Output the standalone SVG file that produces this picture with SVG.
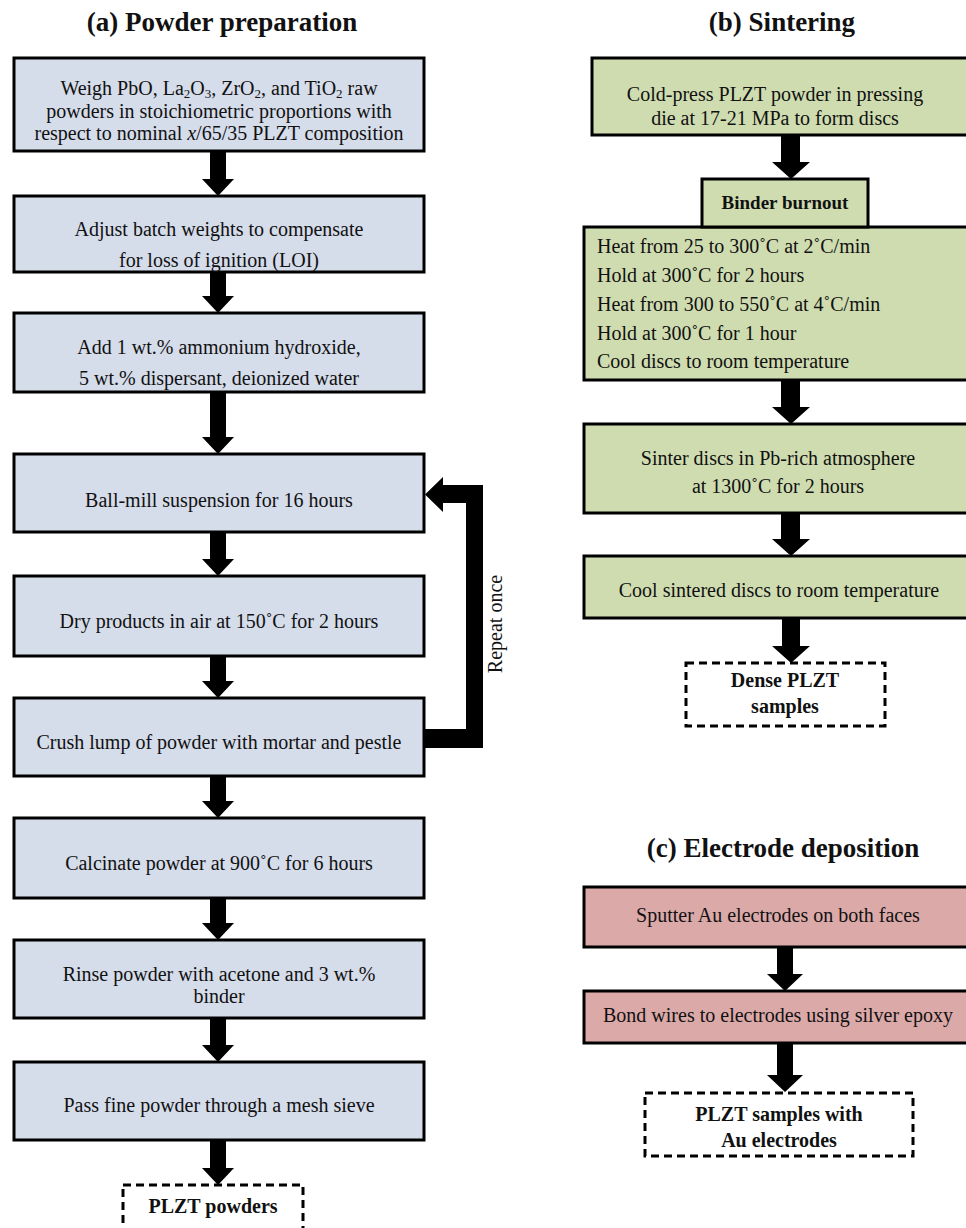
<svg xmlns="http://www.w3.org/2000/svg" width="966" height="1228" viewBox="0 0 966 1228">
<style>
text{font-family:"Liberation Serif","Times New Roman",serif;fill:#111;}
.t{font-size:20px;text-anchor:middle;}
.l{font-size:20px;}
.h{font-size:27px;font-weight:bold;text-anchor:middle;}
.b{font-size:20px;font-weight:bold;text-anchor:middle;}
.sub{font-size:13px;baseline-shift:-3px;}
.blue{fill:#D5DCEA;stroke:#000;stroke-width:3;}
.green{fill:#CFDCB0;stroke:#000;stroke-width:3;}
.pink{fill:#DCA9A9;stroke:#000;stroke-width:3;}
.dash{fill:#fff;stroke:#000;stroke-width:3;stroke-dasharray:8 5;}
.arr{fill:#000;}
</style>
<rect width="966" height="1228" fill="#fff"/>
<text class="h" x="222" y="31">(a) Powder preparation</text>
<text class="h" x="782" y="31">(b) Sintering</text>
<text class="h" x="783" y="857">(c) Electrode deposition</text>

<g id="connectors">
<path class="arr" d="M210,151 H226 V179 H234 L218,196 L202,179 H210 Z"/>
<path class="arr" d="M210,272 H226 V296 H234 L218,313 L202,296 H210 Z"/>
<path class="arr" d="M210,392 H226 V437 H234 L218,454 L202,437 H210 Z"/>
<path class="arr" d="M210,532 H226 V559 H234 L218,576 L202,559 H210 Z"/>
<path class="arr" d="M210,656 H226 V681 H234 L218,698 L202,681 H210 Z"/>
<path class="arr" d="M210,776 H226 V801 H234 L218,818 L202,801 H210 Z"/>
<path class="arr" d="M210,898 H226 V923 H234 L218,940 L202,923 H210 Z"/>
<path class="arr" d="M210,1018 H226 V1045 H234 L218,1062 L202,1045 H210 Z"/>
<path class="arr" d="M210,1140 H226 V1168 H234 L218,1185 L202,1168 H210 Z"/>
<path class="arr" d="M424,748 H483 V485 H443 V477 L425,494.5 L443,512 V503 H466 V729 H424 Z"/>
<text class="l" transform="rotate(-90 502 624)" x="502" y="624" text-anchor="middle">Repeat once</text>
<path class="arr" d="M781,135 H800 V162 H810 L791,179 L772,162 H781 Z"/>
<path class="arr" d="M781,380 H800 V407 H810 L791,424 L772,407 H781 Z"/>
<path class="arr" d="M781,513 H800 V539 H810 L791,556 L772,539 H781 Z"/>
<path class="arr" d="M782,618 H800 V646 H810 L791,663 L772,646 H782 Z"/>
<path class="arr" d="M777,947 H793 V974 H803 L785,991 L767,974 H777 Z"/>
<path class="arr" d="M777,1043 H793 V1075 H803 L785,1092 L767,1075 H777 Z"/>
</g>

<g id="a1"><rect class="blue" x="14" y="58" width="410" height="93"/>
<text class="t" x="219" y="95">Weigh PbO, La<tspan class="sub">2</tspan>O<tspan class="sub">3</tspan>, ZrO<tspan class="sub">2</tspan>, and TiO<tspan class="sub">2</tspan> raw</text>
<text class="t" x="219" y="118">powders in stoichiometric proportions with</text>
<text class="t" x="219" y="140">respect to nominal <tspan font-style="italic">x</tspan>/65/35 PLZT composition</text></g>
<g id="a2"><rect class="blue" x="14" y="196" width="410" height="76"/>
<text class="t" x="219" y="236">Adjust batch weights to compensate</text>
<text class="t" x="219" y="267">for loss of ignition (LOI)</text></g>
<g id="a3"><rect class="blue" x="14" y="313" width="410" height="79"/>
<text class="t" x="219" y="354">Add 1 wt.% ammonium hydroxide,</text>
<text class="t" x="219" y="385">5 wt.% dispersant, deionized water</text></g>
<g id="a4"><rect class="blue" x="14" y="454" width="410" height="78"/>
<text class="t" x="219" y="507">Ball-mill suspension for 16 hours</text></g>
<g id="a5"><rect class="blue" x="14" y="576" width="410" height="80"/>
<text class="t" x="219" y="628">Dry products in air at 150˚C for 2 hours</text></g>
<g id="a6"><rect class="blue" x="14" y="698" width="410" height="78"/>
<text class="t" x="219" y="749">Crush lump of powder with mortar and pestle</text></g>
<g id="a7"><rect class="blue" x="14" y="818" width="410" height="80"/>
<text class="t" x="219" y="870">Calcinate powder at 900˚C for 6 hours</text></g>
<g id="a8"><rect class="blue" x="14" y="940" width="410" height="78"/>
<text class="t" x="219" y="981">Rinse powder with acetone and 3 wt.%</text>
<text class="t" x="219" y="1003">binder</text></g>
<g id="a9"><rect class="blue" x="14" y="1062" width="410" height="78"/>
<text class="t" x="219" y="1112">Pass fine powder through a mesh sieve</text></g>
<g id="a10"><rect class="dash" x="123" y="1185" width="180" height="60"/>
<text class="b" x="213" y="1213">PLZT powders</text></g>

<g id="b1"><rect class="green" x="592" y="58" width="380" height="77"/>
<text class="t" x="775" y="101">Cold-press PLZT powder in pressing</text>
<text class="t" x="775" y="125">die at 17-21 MPa to form discs</text></g>
<g id="b2"><rect class="green" x="584" y="227" width="390" height="153"/>
<text class="l" x="597" y="253">Heat from 25 to 300˚C at 2˚C/min</text>
<text class="l" x="597" y="282">Hold at 300˚C for 2 hours</text>
<text class="l" x="597" y="311">Heat from 300 to 550˚C at 4˚C/min</text>
<text class="l" x="597" y="340">Hold at 300˚C for 1 hour</text>
<text class="l" x="597" y="368">Cool discs to room temperature</text></g>
<g id="b2h"><rect class="green" x="702" y="179" width="166" height="48"/>
<text x="785" y="209" font-size="19" font-weight="bold" text-anchor="middle">Binder burnout</text></g>
<g id="b3"><rect class="green" x="584" y="424" width="390" height="89"/>
<text class="t" x="778" y="465">Sinter discs in Pb-rich atmosphere</text>
<text class="t" x="778" y="493">at 1300˚C for 2 hours</text></g>
<g id="b4"><rect class="green" x="584" y="556" width="390" height="62"/>
<text class="t" x="779" y="597">Cool sintered discs to room temperature</text></g>
<g id="b5"><rect class="dash" x="686" y="663" width="199" height="63"/>
<text class="b" x="785" y="687">Dense PLZT</text>
<text class="b" x="785" y="713">samples</text></g>

<g id="c1"><rect class="pink" x="584" y="887" width="390" height="60"/>
<text class="t" x="778" y="922">Sputter Au electrodes on both faces</text></g>
<g id="c2"><rect class="pink" x="584" y="991" width="390" height="52"/>
<text class="t" x="778" y="1022">Bond wires to electrodes using silver epoxy</text></g>
<g id="c3"><rect class="dash" x="645" y="1093" width="268" height="63"/>
<text class="b" x="779" y="1121">PLZT samples with</text>
<text class="b" x="779" y="1147">Au electrodes</text></g>
</svg>
